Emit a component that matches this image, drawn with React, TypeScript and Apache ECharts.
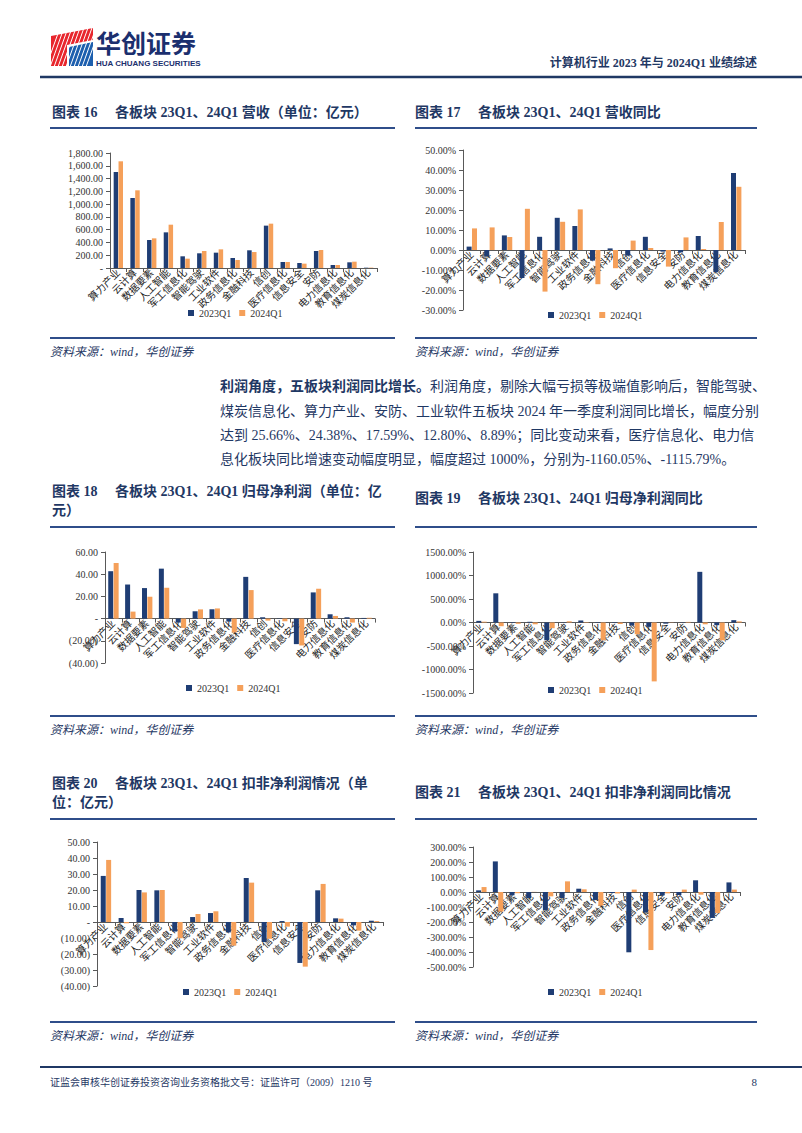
import React, { useEffect, useRef } from 'react';
import * as echarts from 'echarts';

const categories = ['算力产业', '云计算', '数据要素', '人工智能', '军工信息化', '智能驾驶', '工业软件', '政务信息化', '金融科技', '信创', '医疗信息化', '信息安全', '安防', '电力信息化', '教育信息化', '煤炭信息化'];
const seriesNames = ['2023Q1', '2024Q1'];

// 图表16 营收（亿元）
const revenue23 = [1503, 1096, 438, 558, 183, 230, 240, 157, 277, 663, 94, 78, 266, 47, 89, 5];
const revenue24 = [1670, 1216, 464, 678, 146, 266, 292, 125, 250, 694, 94, 68, 282, 47, 99, 6];
// 图表17 营收同比（%）
const revenueYoy23 = [1.7, -3.2, 7.3, -14.0, 6.6, 16.1, 12.0, -5.3, 0.8, -2.8, 6.6, -0.8, -1.2, 7.0, -11.1, 38.5];
const revenueYoy24 = [10.8, 11.3, 6.5, 20.6, -20.8, 14.1, 20.3, -17.1, -9.1, 4.7, 1.0, -8.3, 6.3, 0.5, 14.0, 31.6];
// 图表18 归母净利润（亿元）
const netProfit23 = [42.7, 30.7, 27.5, 45.0, -3.6, 6.6, 8.4, -2.7, 37.6, 1.2, 0.3, -23.0, 23.6, 3.9, 1.2, 0.6];
const netProfit24 = [50.1, 6.3, 19.7, 27.8, -8.4, 8.3, 9.15, -12.5, 25.7, -1.8, -2.4, -24.2, 26.9, 2.4, -3.6, 0.75];
// 图表19 归母净利润同比（%）
const netProfitYoy23 = [35, 621, -10, 15, -379, -5, 43, -10, 10, -64, -93, -25, -5, 1078, -57, 50];
const netProfitYoy24 = [17.59, -79, -28, -38, -121, 25.66, 8.89, -379, -32, -250, -1253, -5, 12.8, -38, -379, 24.38];
// 图表20 扣非净利润（亿元）
const deducted23 = [28.8, 2.5, 20.0, 19.8, -6.0, 3.1, 5.6, -6.5, 27.5, -12.5, 0.6, -25.6, 19.8, 2.3, -2.1, 0.8];
const deducted24 = [38.8, -0.8, 18.5, 20.0, -10.2, 5.0, 6.7, -14.8, 24.6, -10.5, -2.9, -27.9, 23.8, 2.1, -5.4, 0.6];
// 图表21 扣非净利润同比（%）
const deductedYoy23 = [11, 204, -22, -40, -122, -40, 22, -53, -7, -402, -136, -22, -20, 78, -173, 64];
const deductedYoy24 = [33, -131, -8, 1, -29, 71, 18, -91, -10, 16, -387, -9, 16, -18, -140, 16];

// tick labels, bottom to top
const ticksRevenue = ['-', '200.00', '400.00', '600.00', '800.00', '1,000.00', '1,200.00', '1,400.00', '1,600.00', '1,800.00'];
const ticksRevenueYoy = ['-30.00%', '-20.00%', '-10.00%', '0.00%', '10.00%', '20.00%', '30.00%', '40.00%', '50.00%'];
const ticksNetProfit = ['(40.00)', '(20.00)', '-', '20.00', '40.00', '60.00'];
const ticksNetProfitYoy = ['-1500.00%', '-1000.00%', '-500.00%', '0.00%', '500.00%', '1000.00%', '1500.00%'];
const ticksDeducted = ['(40.00)', '(30.00)', '(20.00)', '(10.00)', '-', '10.00', '20.00', '30.00', '40.00', '50.00'];
const ticksDeductedYoy = ['-500.00%', '-400.00%', '-300.00%', '-200.00%', '-100.00%', '0.00%', '100.00%', '200.00%', '300.00%'];

const SERIF = "'Liberation Serif','Noto Sans CJK SC',serif";
const SANS = "'Liberation Sans','Noto Sans CJK SC',sans-serif";
const NAVY = '#1F3864';
const LINE = '#2F4E8A';
const BLUE = '#1F3D74';
const ORANGE = '#F5A05A';
const AXIS = '#595959';

const panels = [
  { d23: revenue23, d24: revenue24, ticks: ticksRevenue, min: 0, max: 1800, interval: 200, bw: 4.5,
    grid: { left: 110, top: 153, width: 267, height: 115 }, legend: { left: 188, top: 308 } },
  { d23: revenueYoy23, d24: revenueYoy24, ticks: ticksRevenueYoy, min: -30, max: 50, interval: 10, bw: 5,
    grid: { left: 463, top: 150, width: 282, height: 160 }, legend: { left: 548, top: 310 } },
  { d23: netProfit23, d24: netProfit24, ticks: ticksNetProfit, min: -40, max: 60, interval: 20, bw: 5,
    grid: { left: 105, top: 552, width: 270, height: 111 }, legend: { left: 186, top: 683 } },
  { d23: netProfitYoy23, d24: netProfitYoy24, ticks: ticksNetProfitYoy, min: -1500, max: 1500, interval: 500, bw: 5,
    grid: { left: 473, top: 552, width: 272, height: 141 }, legend: { left: 548, top: 685 } },
  { d23: deducted23, d24: deducted24, ticks: ticksDeducted, min: -40, max: 50, interval: 10, bw: 5,
    grid: { left: 97, top: 842, width: 286, height: 144 }, legend: { left: 183, top: 987 } },
  { d23: deductedYoy23, d24: deductedYoy24, ticks: ticksDeductedYoy, min: -500, max: 300, interval: 100, bw: 5,
    grid: { left: 473, top: 847, width: 267, height: 120 }, legend: { left: 548, top: 987 } },
];

const titles = [
  { no: '图表 16', text: '各板块 23Q1、24Q1 营收（单位：亿元）', x: 52, rx: 115, y: 112 },
  { no: '图表 17', text: '各板块 23Q1、24Q1 营收同比', x: 415, rx: 478, y: 112 },
  { no: '图表 18', text: '各板块 23Q1、24Q1 归母净利润（单位：亿', x: 52, rx: 115, y: 491, cont: '元）' },
  { no: '图表 19', text: '各板块 23Q1、24Q1 归母净利润同比', x: 415, rx: 478, y: 498 },
  { no: '图表 20', text: '各板块 23Q1、24Q1 扣非净利润情况（单', x: 52, rx: 115, y: 783, cont: '位：亿元）' },
  { no: '图表 21', text: '各板块 23Q1、24Q1 扣非净利润同比情况', x: 415, rx: 478, y: 792 },
];

const sourceText = '资料来源：wind，华创证券';
const paragraphBold = '利润角度，五板块利润同比增长。';
const paragraphLines = [
  '利润角度，剔除大幅亏损等极端值影响后，智能驾驶、',
  '煤炭信息化、算力产业、安防、工业软件五板块 2024 年一季度利润同比增长，幅度分别',
  '达到 25.66%、24.38%、17.59%、12.80%、8.89%；同比变动来看，医疗信息化、电力信',
  '息化板块同比增速变动幅度明显，幅度超过 1000%，分别为-1160.05%、-1115.79%。',
];

function txt(text: string, x: number, y: number, o: any = {}) {
  const align = o.align || 'left';
  return {
    type: 'text', x, y, silent: true,
    style: {
      text,
      fill: o.fill || NAVY,
      fontSize: o.size || 14,
      fontFamily: o.family || SERIF,
      fontWeight: o.weight || 'normal',
      fontStyle: o.style || 'normal',
      textAlign: align, align,
      textVerticalAlign: 'middle', verticalAlign: 'middle',
    },
  };
}
function hline(x1: number, x2: number, y: number, w = 2, c = LINE) {
  return { type: 'line', silent: true, shape: { x1, y1: y, x2, y2: y }, style: { stroke: c, lineWidth: w } };
}

export default function App() {
  const ref = useRef<HTMLDivElement>(null);
  useEffect(() => {
    document.body.style.margin = '0';
    document.body.style.overflow = 'hidden';
    const chart = echarts.init(ref.current!, undefined, { renderer: 'svg' });

    const graphics: any[] = [];
    // logo
    graphics.push({ type: 'polygon', silent: true, shape: { points: [[51, 36], [93, 28], [93, 40], [67, 45], [67, 66], [51, 66]] }, style: { fill: '#E8262D' } });
    graphics.push({ type: 'polygon', silent: true, shape: { points: [[69, 47], [93, 42], [93, 66], [69, 66]] }, style: { fill: '#1D5FAE' } });
    for (let k = 0; k < 11; k++) {
      const x0 = 46 + k * 4;
      const x1 = Math.min(x0 + 14, 94);
      graphics.push({ type: 'line', silent: true, shape: { x1: x0, y1: 67, x2: x1, y2: 67 - (x1 - x0) * 2.8 }, style: { stroke: '#fff', lineWidth: 1 } });
    }
    graphics.push(txt('华创证券', 96, 42, { size: 25, weight: 'bold', fill: '#1B2F6E', family: "'Noto Sans CJK SC',sans-serif" }));
    graphics.push(txt('HUA CHUANG SECURITIES', 96, 63, { size: 8, weight: 'bold', fill: '#1B2F6E', family: SANS }));
    graphics.push(txt('计算机行业 2023 年与 2024Q1 业绩综述', 757, 63, { size: 12, weight: 'bold', align: 'right' }));
    graphics.push(hline(40, 802, 77, 2.5, NAVY));

    // titles
    titles.forEach((t) => {
      graphics.push(txt(t.no, t.x, t.y, { size: 14, weight: 'bold' }));
      graphics.push(txt(t.text, t.rx, t.y, { size: 14, weight: 'bold' }));
      if (t.cont) graphics.push(txt(t.cont, t.x, t.y + 19, { size: 14, weight: 'bold' }));
    });
    [128, 527, 819].forEach((y) => {
      graphics.push(hline(50, 395, y));
      graphics.push(hline(415, 757, y));
    });
    // sources
    [[338, 352], [716, 730], [1022, 1036]].forEach(([ly, ty]) => {
      graphics.push(hline(50, 395, ly));
      graphics.push(hline(415, 757, ly));
      graphics.push(txt(sourceText, 50, ty, { size: 12, style: 'italic' }));
      graphics.push(txt(sourceText, 415, ty, { size: 12, style: 'italic' }));
    });

    // paragraph
    graphics.push({
      type: 'text', x: 220, y: 386, silent: true,
      style: {
        text: `{b|${paragraphBold}}{n|${paragraphLines[0]}}`,
        textVerticalAlign: 'middle', verticalAlign: 'middle',
        rich: {
          b: { fontWeight: 'bold', fontSize: 14, fontFamily: SERIF, fill: NAVY, color: NAVY },
          n: { fontSize: 14, fontFamily: SERIF, fill: NAVY, color: NAVY },
        },
      },
    });
    paragraphLines.slice(1).forEach((l, i) => graphics.push(txt(l, 220, 411 + i * 24, { size: 14 })));

    // footer
    graphics.push(hline(40, 802, 1067, 2, NAVY));
    graphics.push(txt('证监会审核华创证券投资咨询业务资格批文号：证监许可（2009）1210 号', 50, 1082, { size: 10 }));
    graphics.push(txt('8', 757, 1082, { size: 11, align: 'right' }));

    const option: any = {
      animation: false,
      textStyle: { fontFamily: SERIF },
      grid: panels.map((p) => ({ ...p.grid, containLabel: false })),
      xAxis: panels.map((p, i) => ({
        type: 'category', gridIndex: i, data: categories, position: 'bottom',
        // put the category axis (line, ticks, labels) on the zero line
        offset: -(p.grid.height * (0 - p.min)) / (p.max - p.min),
        axisLine: { onZero: false, lineStyle: { color: AXIS, width: 1 } },
        axisTick: { show: true, length: 4, lineStyle: { color: AXIS } },
        axisLabel: { rotate: 45, interval: 0, fontSize: 10, fontFamily: SERIF, color: '#222', margin: 3 },
      })),
      yAxis: panels.map((p, i) => ({
        type: 'value', gridIndex: i, min: p.min, max: p.max, interval: p.interval,
        splitLine: { show: false },
        axisLine: { show: true, onZero: false, lineStyle: { color: AXIS, width: 1 } },
        axisTick: { show: true, length: 4, lineStyle: { color: AXIS } },
        axisLabel: {
          fontSize: 10, fontFamily: SERIF, color: '#333', margin: 7,
          formatter: (v: number) => p.ticks[Math.round((v - p.min) / p.interval)] ?? '',
        },
      })),
      legend: panels.map((p) => ({
        data: seriesNames, left: p.legend.left, top: p.legend.top, icon: 'rect',
        itemWidth: 6, itemHeight: 6, itemGap: 8, padding: 0, selectedMode: false,
        textStyle: { fontSize: 10, fontFamily: SERIF, color: '#333' },
      })),
      series: panels.flatMap((p, i) => [
        { type: 'bar', name: seriesNames[0], xAxisIndex: i, yAxisIndex: i, data: p.d23, barWidth: p.bw, barGap: '8%', itemStyle: { color: BLUE } },
        { type: 'bar', name: seriesNames[1], xAxisIndex: i, yAxisIndex: i, data: p.d24, barWidth: p.bw, barGap: '8%', itemStyle: { color: ORANGE } },
      ]),
      graphic: { elements: graphics },
    };
    chart.setOption(option);
    return () => chart.dispose();
  }, []);
  return <div ref={ref} style={{ position: 'absolute', left: 0, top: 0, width: 802, height: 1133, background: '#fff' }} />;
}
